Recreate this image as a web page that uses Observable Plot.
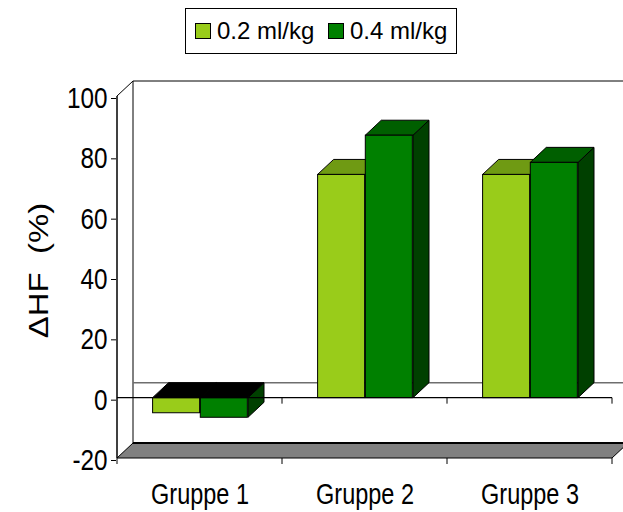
<!DOCTYPE html>
<html><head><meta charset="utf-8">
<script src="https://cdn.jsdelivr.net/npm/d3@7"></script>
<script src="https://cdn.jsdelivr.net/npm/@observablehq/plot@0.6"></script>
<style>
body{margin:0;background:#fff;font-family:"Liberation Sans",Arial,sans-serif;}
#legend{position:relative;height:60px;width:623px}
#legend .box{position:absolute;left:185px;top:8px;width:272px;height:46px;border:1px solid #000;box-sizing:border-box;background:#fff}
#legend .sw{position:absolute;width:16px;height:16px;border:1px solid #000;box-sizing:border-box;top:23px}
#legend .lb{position:absolute;top:19px;font-size:24px;line-height:24px;white-space:nowrap;color:#000}
#chart svg{display:block}
</style></head>
<body>
<div id="legend"><div class="box"></div></div>
<div id="chart"></div>
<script>
const groups = ["Gruppe 1", "Gruppe 2", "Gruppe 3"];
const seriesNames = ["0.2 ml/kg", "0.4 ml/kg"];
const dose02 = [-5, 74, 74];
const dose04 = [-6.5, 87, 78];
const yTicks = [-20, 0, 20, 40, 60, 80, 100];
const frontColors = ["#99cc1a", "#008000"];
const topColors = ["#6f9a13", "#005f00"];
const sideColors = ["#4d6b0d", "#004000"];
const yTitle = "\u0394HF\u00a0\u00a0(%)";

const rows = [];
groups.forEach((g, i) => {
  rows.push({group: g, s: 0, value: dose02[i]});
  rows.push({group: g, s: 1, value: dose04[i]});
});

// legend
const leg = document.getElementById("legend");
const swX = [195, 328], lbX = [217, 350];
seriesNames.forEach((name, k) => {
  const sw = document.createElement("div"); sw.className = "sw";
  sw.style.left = swX[k] + "px"; sw.style.background = frontColors[k];
  leg.appendChild(sw);
  const lb = document.createElement("div"); lb.className = "lb";
  lb.style.left = lbX[k] + "px"; lb.textContent = name;
  leg.appendChild(lb);
});

const DX = 16, DY = -15;       // depth offset (px)
const PAD = 35.6, BW = 47.7;   // bar placement inside band (px)

function barX(scales, d) {
  const x0 = scales.x(d.group) + PAD + d.s * BW;
  return [x0, x0 + BW];
}

const walls = (index, scales) => {
  const g = d3.create("svg:g");
  const x = scales.x, y = scales.y, bw = x.bandwidth();
  const xl = x(groups[0]), xr = x(groups[groups.length - 1]) + bw;
  const yTop = y(100), yBot = y(-20), y0 = y(0);
  g.append("path")
    .attr("d", `M${xl},${yBot}L${xr},${yBot}L${xr + DX},${yBot + DY}L${xl + DX},${yBot + DY}Z`)
    .attr("fill", "#808080").attr("stroke", "#000").attr("stroke-width", 1);
  g.append("line").attr("x1", xl + DX).attr("x2", xr + DX + 20).attr("y1", yBot + DY).attr("y2", yBot + DY)
    .attr("stroke", "#000").attr("stroke-width", 2);
  g.append("line").attr("x1", xl + DX).attr("x2", xl + DX).attr("y1", yTop + DY).attr("y2", yBot + DY).attr("stroke", "#000");
  g.append("line").attr("x1", xl + DX).attr("x2", xr + DX + 20).attr("y1", yTop + DY).attr("y2", yTop + DY).attr("stroke", "#000");
  g.append("line").attr("x1", xl).attr("x2", xl + DX).attr("y1", yTop).attr("y2", yTop + DY).attr("stroke", "#000");
  g.append("line").attr("x1", xl + DX).attr("x2", xr + DX + 20).attr("y1", y0 + DY).attr("y2", y0 + DY)
    .attr("stroke", "#6e6e6e").attr("stroke-width", 1.5);
  return g.node();
};

const faces = (index, scales) => {
  const g = d3.create("svg:g").attr("stroke", "#000").attr("stroke-width", 1).attr("stroke-linejoin", "round");
  const y = scales.y;
  rows.forEach(d => {
    const [x1, x2] = barX(scales, d);
    const yt = y(Math.max(d.value, 0)), yb = y(Math.min(d.value, 0));
    g.append("path")
      .attr("d", `M${x2},${yt}L${x2 + DX},${yt + DY}L${x2 + DX},${yb + DY}L${x2},${yb}Z`)
      .attr("fill", sideColors[d.s]);
    g.append("path")
      .attr("d", `M${x1},${yt}L${x2},${yt}L${x2 + DX},${yt + DY}L${x1 + DX},${yt + DY}Z`)
      .attr("fill", d.value < 0 ? "#000" : topColors[d.s]);
  });
  return g.node();
};

const frontAxes = (index, scales) => {
  const g = d3.create("svg:g").attr("stroke", "#000");
  const x = scales.x, y = scales.y, bw = x.bandwidth();
  const xl = x(groups[0]), xr = x(groups[groups.length - 1]) + bw;
  const y0 = y(0), yBot = y(-20);
  g.append("line").attr("x1", xl).attr("x2", xl).attr("y1", y(100)).attr("y2", yBot).attr("stroke-width", 1.5);
  g.append("line").attr("x1", xl).attr("x2", xr).attr("y1", y0).attr("y2", y0).attr("stroke-width", 1.2);
  const bounds = groups.map(gr => x(gr)).concat([xr]);
  bounds.forEach((b, i) => {
    if (i > 0) g.append("line").attr("x1", b).attr("x2", b).attr("y1", y0).attr("y2", y0 + 6);
    g.append("line").attr("x1", b).attr("x2", b).attr("y1", yBot).attr("y2", yBot + 6);
  });
  return g.node();
};

const plot = Plot.plot({
  width: 623,
  height: 452,
  marginLeft: 116,
  marginRight: 10,
  marginTop: 36,
  marginBottom: 54,
  style: {fontFamily: "'Liberation Sans',Arial,sans-serif", background: "#fff", color: "#000", overflow: "visible"},
  x: {type: "band", domain: groups, padding: 0, axis: null},
  y: {domain: [-20, 100], axis: null},
  marks: [
    walls,
    faces,
    Plot.barY(rows.filter(d => d.s === 0), {x: "group", y: "value", fill: frontColors[0], stroke: "#000", strokeWidth: 1, insetLeft: PAD, insetRight: 165.67 - PAD - BW}),
    Plot.barY(rows.filter(d => d.s === 1), {x: "group", y: "value", fill: frontColors[1], stroke: "#000", strokeWidth: 1, insetLeft: PAD + BW, insetRight: 165.67 - PAD - 2 * BW}),
    frontAxes,
    Plot.axisY({ticks: yTicks, tickSize: 5, tickPadding: 4, fontSize: 30, label: null, dy: 2, tickFormat: d => d < 0 ? "-" + Math.abs(d) : String(d)}),
    Plot.text(groups, {x: d => d, frameAnchor: "bottom", dy: 36, fontSize: 29, lineAnchor: "middle"}),
    Plot.text([yTitle], {frameAnchor: "left", dx: -77, dy: -7, rotate: -90, fontSize: 27, textAnchor: "middle"})
  ]
});
// narrow (Arial Narrow–like) horizontal compression for axis labels; stretch for title
plot.querySelectorAll("text").forEach(t => {
  const tr = t.getAttribute("transform") || "";
  if (tr.includes("rotate")) t.setAttribute("transform", tr + " scale(1.22,1)");
  else t.setAttribute("transform", tr + " scale(0.81,1)");
});
document.getElementById("chart").appendChild(plot);
</script>
</body></html>
